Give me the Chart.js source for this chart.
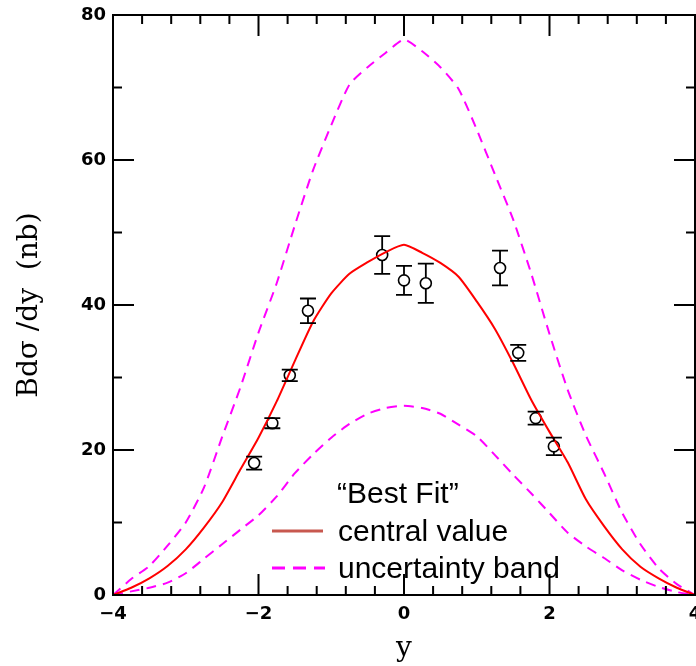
<!DOCTYPE html>
<html>
<head>
<meta charset="utf-8">
<script src="https://cdn.jsdelivr.net/npm/chart.js@4.4.0/dist/chart.umd.min.js"></script>
<style>
  html, body { margin: 0; padding: 0; background: #fff; }
</style>
</head>
<body>
<canvas id="dsdy" width="696" height="666"></canvas>
<script>
// rapidity grid for the theory curves
var yGrid = [-4, -3.75, -3.5, -3.25, -3, -2.75, -2.5, -2.25, -2, -1.75, -1.5, -1.25, -1, -0.75, -0.5, -0.25,
             0, 0.25, 0.5, 0.75, 1, 1.25, 1.5, 1.75, 2, 2.25, 2.5, 2.75, 3, 3.25, 3.5, 3.75, 4];

// "Best Fit" central value (solid red)
var centralValue = [0, 1.0, 2.3, 4.0, 6.3, 9.3, 12.8, 17.3, 21.7, 26.7, 32.3, 37.7, 41.6, 44.3, 45.9, 47.3,
                    48.3, 47.2, 45.8, 43.9, 40.5, 36.7, 32.0, 26.9, 22.5, 18.3, 13.2, 9.5, 6.3, 3.9, 2.3, 1.0, 0];

// uncertainty band (dashed magenta)
var bandUpper = [0, 2.2, 4.0, 6.8, 10.0, 14.8, 21.8, 28.6, 36.2, 43.0, 51.0, 58.6, 64.8, 70.4, 72.8, 74.8,
                 76.6, 75.0, 72.8, 69.8, 64.2, 58.0, 51.8, 44.3, 36.0, 28.3, 22.0, 16.8, 11.3, 7.0, 3.7, 1.5, 0];
var bandLower = [0, 0.5, 1.0, 1.7, 3.0, 5.0, 7.0, 9.0, 11.0, 13.6, 16.8, 19.4, 21.7, 23.6, 25.0, 25.8,
                 26.1, 25.8, 25.0, 23.5, 21.9, 19.3, 16.6, 14.0, 11.3, 8.6, 6.7, 5.1, 3.4, 2.1, 1.1, 0.4, 0];

// measured points with errors
var dataX = [-2.06, -1.81, -1.57, -1.32, -0.30, 0.00, 0.30, 1.32, 1.57, 1.81, 2.06];
var dataY = [18.2, 23.7, 30.3, 39.2, 46.9, 43.4, 43.0, 45.1, 33.4, 24.4, 20.5];
var dataErr = [0.9, 0.7, 0.8, 1.7, 2.6, 2.0, 2.7, 2.4, 1.1, 0.9, 1.2];

// axis ticks
var xMajor = [-4, -2, 0, 2, 4];
var xMinor = [-3.6, -3.2, -2.8, -2.4, -1.6, -1.2, -0.8, -0.4, 0.4, 0.8, 1.2, 1.6, 2.4, 2.8, 3.2, 3.6];
var yMajor = [0, 20, 40, 60, 80];
var yMinor = [10, 30, 50, 70];

function pts(xs, ys) {
    return xs.map(function (x, i) { return { x: x, y: ys[i] }; });
}

// frame with inward ticks on all four sides
var framePlugin = {
    id: 'frame',
    afterDraw: function (chart) {
        var ctx = chart.ctx, a = chart.chartArea;
        var sx = chart.scales.x, sy = chart.scales.y;
        ctx.save();
        ctx.strokeStyle = '#000';
        ctx.lineWidth = 2;
        ctx.strokeRect(a.left, a.top, a.right - a.left, a.bottom - a.top);
        ctx.beginPath();
        function xt(v, len) {
            var p = sx.getPixelForValue(v);
            ctx.moveTo(p, a.bottom); ctx.lineTo(p, a.bottom - len);
            ctx.moveTo(p, a.top); ctx.lineTo(p, a.top + len);
        }
        function yt(v, len) {
            var p = sy.getPixelForValue(v);
            ctx.moveTo(a.left, p); ctx.lineTo(a.left + len, p);
            ctx.moveTo(a.right, p); ctx.lineTo(a.right - len, p);
        }
        xMajor.forEach(function (v) { xt(v, 21); });
        xMinor.forEach(function (v) { xt(v, 9); });
        yMajor.forEach(function (v) { yt(v, 21); });
        yMinor.forEach(function (v) { yt(v, 9); });
        ctx.stroke();

        // legend
        ctx.lineWidth = 3;
        ctx.strokeStyle = '#c8584f';
        ctx.beginPath(); ctx.moveTo(272, 531); ctx.lineTo(323, 531); ctx.stroke();
        ctx.strokeStyle = '#ff00ff';
        ctx.setLineDash([13, 8]);
        ctx.beginPath(); ctx.moveTo(272, 568); ctx.lineTo(325, 568); ctx.stroke();
        ctx.setLineDash([]);
        ctx.fillStyle = '#000';
        ctx.font = '30px "Liberation Sans", Arial, sans-serif';
        ctx.textBaseline = 'alphabetic';
        ctx.fillText('\u201cBest Fit\u201d', 337, 503);
        ctx.fillText('central value', 338, 541);
        ctx.fillText('uncertainty band', 338, 578);
        ctx.restore();
    }
};

// vertical error bars with caps
var errorBarPlugin = {
    id: 'errbars',
    afterDatasetsDraw: function (chart) {
        var ctx = chart.ctx;
        var sx = chart.scales.x, sy = chart.scales.y;
        var r = 5.5, cap = 8;
        ctx.save();
        ctx.strokeStyle = '#000';
        ctx.lineWidth = 1.8;
        ctx.beginPath();
        dataX.forEach(function (x, i) {
            var px = sx.getPixelForValue(x);
            var py = sy.getPixelForValue(dataY[i]);
            var hi = sy.getPixelForValue(dataY[i] + dataErr[i]);
            var lo = sy.getPixelForValue(dataY[i] - dataErr[i]);
            if (py - hi > r) { ctx.moveTo(px, hi); ctx.lineTo(px, py - r); }
            if (lo - py > r) { ctx.moveTo(px, py + r); ctx.lineTo(px, lo); }
            ctx.moveTo(px - cap, hi); ctx.lineTo(px + cap, hi);
            ctx.moveTo(px - cap, lo); ctx.lineTo(px + cap, lo);
        });
        ctx.stroke();
        ctx.restore();
    }
};

var ctx = document.getElementById('dsdy');
var myChart = new Chart(ctx, {
    type: 'scatter',
    data: {
        datasets: [{
            label: 'central value',
            data: pts(yGrid, centralValue),
            showLine: true,
            borderColor: '#ff0000',
            borderWidth: 2,
            pointRadius: 0,
            tension: 0.2
        }, {
            label: 'uncertainty band',
            data: pts(yGrid, bandUpper),
            showLine: true,
            borderColor: '#ff00ff',
            borderWidth: 2,
            borderDash: [10, 7],
            pointRadius: 0,
            tension: 0.2
        }, {
            label: 'uncertainty band lower',
            data: pts(yGrid, bandLower),
            showLine: true,
            borderColor: '#ff00ff',
            borderWidth: 2,
            borderDash: [10, 7],
            pointRadius: 0,
            tension: 0.2
        }, {
            label: 'data',
            data: pts(dataX, dataY),
            showLine: false,
            pointStyle: 'circle',
            pointRadius: 5.5,
            borderColor: '#000',
            borderWidth: 1.6,
            backgroundColor: 'rgba(0,0,0,0)'
        }]
    },
    options: {
        responsive: false,
        animation: false,
        devicePixelRatio: 1,
        layout: { autoPadding: false, padding: { top: 15, right: 1, left: 0, bottom: 0 } },
        plugins: { legend: { display: false }, tooltip: { enabled: false } },
        scales: {
            x: {
                type: 'linear',
                min: -4, max: 4,
                grid: { display: false, drawTicks: false },
                border: { display: false },
                ticks: {
                    stepSize: 2,
                    padding: 9,
                    color: '#000',
                    font: { family: '"DejaVu Sans"', weight: 'bold', size: 18 },
                    callback: function (v) { return v < 0 ? '\u2212' + Math.abs(v) : String(v); }
                },
                title: {
                    display: true,
                    text: 'y',
                    color: '#000',
                    font: { family: '"DejaVu Serif", serif', size: 28 },
                    padding: { top: 0, bottom: 0 }
                },
                afterFit: function (s) { s.height = 71; s.paddingLeft = 0; s.paddingRight = 0; }
            },
            y: {
                type: 'linear',
                min: 0, max: 80,
                grid: { display: false, drawTicks: false },
                border: { display: false },
                ticks: {
                    stepSize: 20,
                    padding: 7,
                    color: '#000',
                    font: { family: '"DejaVu Sans"', weight: 'bold', size: 18 }
                },
                title: {
                    display: true,
                    text: 'Bd\u03c3 /dy  (nb)',
                    color: '#000',
                    font: { family: '"DejaVu Serif", serif', size: 28 },
                    padding: { top: 13, bottom: 0 }
                },
                afterFit: function (s) { s.width = 113; s.paddingTop = 0; s.paddingBottom = 0; }
            }
        }
    },
    plugins: [errorBarPlugin, framePlugin]
});
</script>
</body>
</html>
